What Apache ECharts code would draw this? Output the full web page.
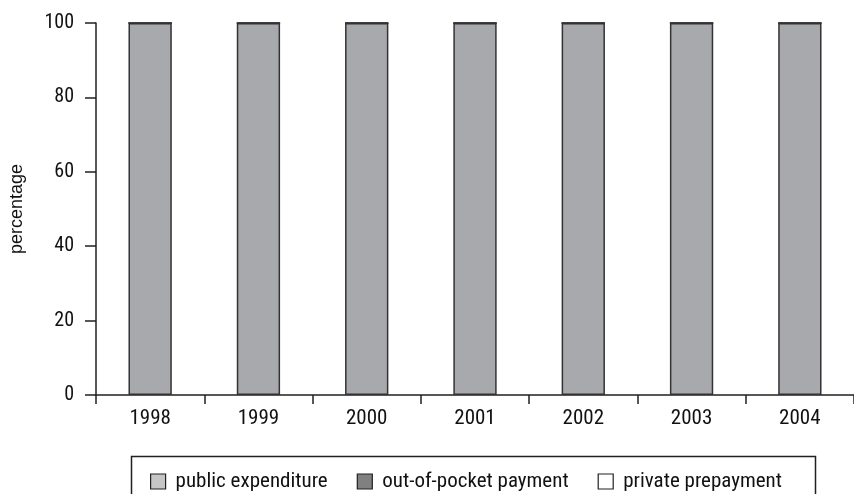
<!DOCTYPE html>
<html>
<head>
<meta charset="utf-8">
<script src="https://cdn.jsdelivr.net/npm/echarts@6/dist/echarts.min.js"></script>
<style>html,body{margin:0;padding:0;background:#fff}#c{width:854px;height:494px}</style>
</head>
<body>
<div id="c"></div>
<script>
var categories = ['1998', '1999', '2000', '2001', '2002', '2003', '2004'];
var publicExpenditure = [100, 100, 100, 100, 100, 100, 100];
var outOfPocket = [0, 0, 0, 0, 0, 0, 0];
var privatePrepayment = [0, 0, 0, 0, 0, 0, 0];
var seriesNames = ['public expenditure', 'out-of-pocket payment', 'private prepayment'];
var yTicks = [0, 20, 40, 60, 80, 100];

var narrow = '"Liberation Sans Narrow", "Arial Narrow", "Roboto Condensed", sans-serif';
var chart = echarts.init(document.getElementById('c'), null, {renderer: 'canvas'});
var border = {borderColor: '#333', borderWidth: 1.5};
chart.setOption({
  animation: false,
  backgroundColor: '#fff',
  grid: {left: 96, right: -4, top: 23, bottom: 99, containLabel: false},
  legend: {
    left: 145, top: 466,
    itemWidth: 15, itemHeight: 15, itemGap: 29,
    icon: 'rect',
    textStyle: {fontFamily: narrow, fontSize: 21, color: '#111', padding: [0, 0, 0, 5]},
    data: [
      {name: seriesNames[0], itemStyle: {color: '#c4c5c7', borderColor: '#231f20', borderWidth: 1.2}},
      {name: seriesNames[1], itemStyle: {color: '#808080', borderColor: '#231f20', borderWidth: 1.2}},
      {name: seriesNames[2], itemStyle: {color: '#ffffff', borderColor: '#231f20', borderWidth: 1.2}}
    ]
  },
  graphic: [{
    type: 'rect', left: 129, top: 454,
    shape: {width: 684, height: 60},
    style: {fill: 'none', stroke: '#231f20', lineWidth: 1.5}
  }],
  xAxis: {
    type: 'category',
    data: categories,
    boundaryGap: true,
    axisLine: {lineStyle: {color: '#231f20', width: 1.5}},
    axisTick: {show: true, alignWithLabel: false, length: 9, lineStyle: {color: '#231f20', width: 1.5}},
    axisLabel: {fontFamily: narrow, fontSize: 21, color: '#111', margin: 13}
  },
  yAxis: {
    type: 'value',
    min: yTicks[0], max: yTicks[yTicks.length - 1], interval: 20,
    name: 'percentage',
    nameLocation: 'middle',
    nameGap: 70,
    nameRotate: 90,
    nameTextStyle: {fontFamily: '"Liberation Sans", Arial, sans-serif', fontSize: 18, color: '#111'},
    axisLine: {show: true, lineStyle: {color: '#231f20', width: 1.5}},
    axisTick: {show: true, inside: false, length: 11, lineStyle: {color: '#231f20', width: 1.5}},
    axisLabel: {fontFamily: narrow, fontSize: 20, color: '#111', margin: 22},
    splitLine: {show: false}
  },
  series: [
    {name: seriesNames[0], type: 'bar', stack: 'a', barWidth: '40%', data: publicExpenditure,
     itemStyle: Object.assign({color: '#a8a9ac'}, border)},
    {name: seriesNames[1], type: 'bar', stack: 'a', barWidth: '40%', data: outOfPocket,
     itemStyle: Object.assign({color: '#808080'}, border)},
    {name: seriesNames[2], type: 'bar', stack: 'a', barWidth: '40%', data: privatePrepayment,
     itemStyle: Object.assign({color: '#ffffff'}, border)}
  ]
});
</script>
</body>
</html>
